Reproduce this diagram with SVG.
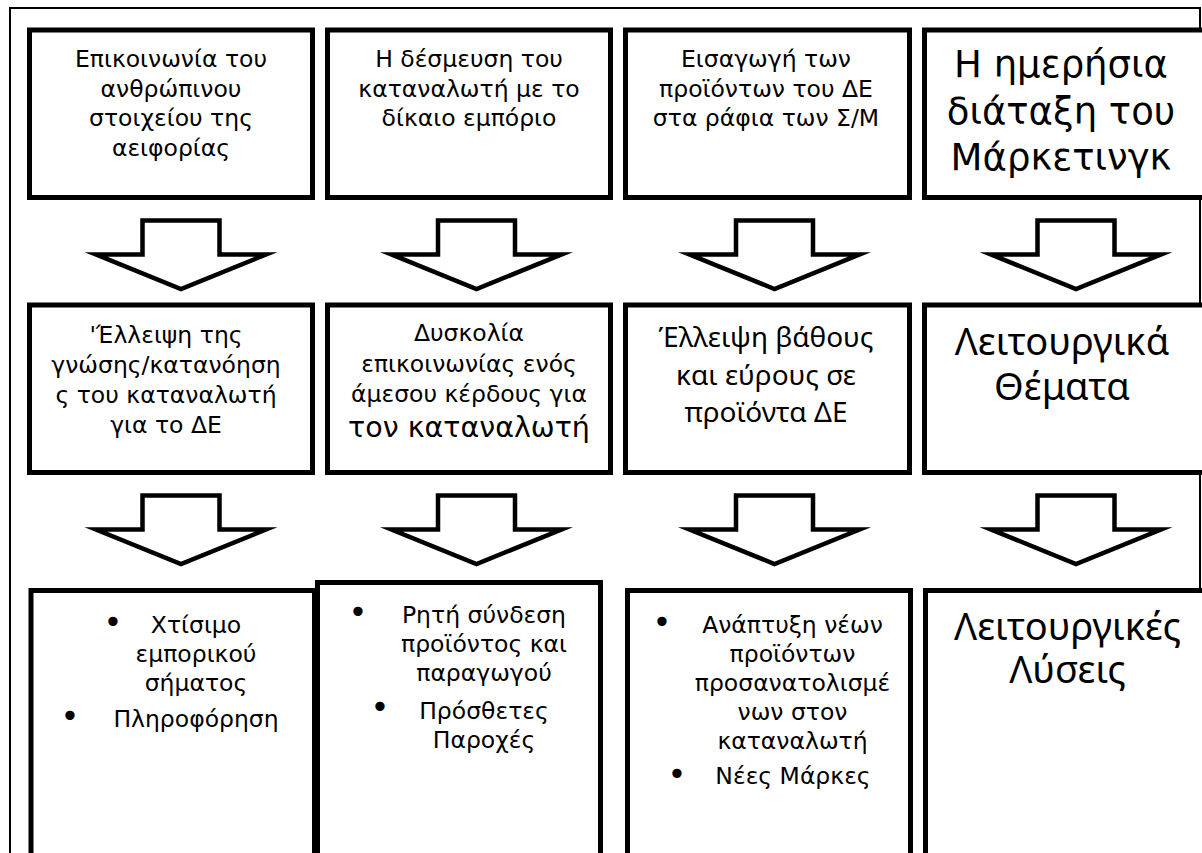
<svg xmlns="http://www.w3.org/2000/svg" width="1202" height="853" viewBox="0 0 1202 853">
<style>
.frame{fill:none;stroke:#000;stroke-width:2}
.box{fill:#fff;stroke:#000;stroke-width:5}
.arr{fill:#fff;stroke:#000;stroke-width:4.5;stroke-linejoin:miter;stroke-miterlimit:10}
.t{font-family:"DejaVu Sans","Liberation Sans",sans-serif;font-size:23.5px;fill:#000;text-anchor:middle}
.big{font-family:"DejaVu Sans","Liberation Sans",sans-serif;font-size:37px;fill:#000;text-anchor:middle}
.c{font-family:"Noto Sans","Open Sans",sans-serif;font-size:28px;fill:#000;text-anchor:middle}
.cb{font-family:"Noto Sans","Open Sans",sans-serif;font-size:38px;fill:#000;text-anchor:middle}
.b{font-family:"DejaVu Sans","Liberation Sans",sans-serif;font-size:32px;fill:#000;text-anchor:middle}
</style>
<defs>
<polygon id="arrow" points="-38.5,0 38.5,0 38.5,34 85,34 0,68.5 -85,34 -38.5,34"/>
</defs>
<rect class="frame" x="10" y="8" width="1190" height="900"/>

<g id="connectors">
<use href="#arrow" class="arr" x="181" y="220.5"/>
<use href="#arrow" class="arr" x="476.5" y="220.5"/>
<use href="#arrow" class="arr" x="774.5" y="220.5"/>
<use href="#arrow" class="arr" x="1076" y="220.5"/>
<use href="#arrow" class="arr" x="181" y="495.5"/>
<use href="#arrow" class="arr" x="476.5" y="495.5"/>
<use href="#arrow" class="arr" x="774.5" y="495.5"/>
<use href="#arrow" class="arr" x="1076" y="495.5"/>
</g>

<g id="n1">
<rect class="box" x="29.5" y="30" width="283" height="167.5"/>
<text class="t" x="171" y="67">Επικοινωνία του</text>
<text class="t" x="171" y="96.5">ανθρώπινου</text>
<text class="t" x="171" y="126">στοιχείου της</text>
<text class="t" x="171" y="155.5">αειφορίας</text>
</g>
<g id="n2">
<rect class="box" x="327.5" y="30" width="283" height="167.5"/>
<text class="t" x="469" y="67">Η δέσμευση του</text>
<text class="t" x="469" y="96.5">καταναλωτή με το</text>
<text class="t" x="469" y="126">δίκαιο εμπόριο</text>
</g>
<g id="n3">
<rect class="box" x="625.5" y="30" width="284" height="167.5"/>
<text class="t" x="766" y="67">Εισαγωγή των</text>
<text class="t" x="766" y="96.5">προϊόντων του ΔΕ</text>
<text class="t" x="766" y="126">στα ράφια των Σ/Μ</text>
</g>
<g id="n4">
<rect class="box" x="924.5" y="30" width="290" height="167.5"/>
<text class="big" x="1061" y="77">Η ημερήσια</text>
<text class="big" x="1061" y="123.5">διάταξη του</text>
<text class="big" x="1061" y="170">Μάρκετινγκ</text>
</g>

<g id="n5">
<rect class="box" x="29.5" y="305" width="283" height="167.5"/>
<text class="t" x="166" y="343">'Έλλειψη της</text>
<text class="t" x="166" y="373">γνώσης/κατανόηση</text>
<text class="t" x="166" y="403">ς του καταναλωτή</text>
<text class="t" x="166" y="433">για το ΔΕ</text>
</g>
<g id="n6">
<rect class="box" x="327.5" y="305" width="283" height="167.5"/>
<text class="t" x="469" y="341">Δυσκολία</text>
<text class="t" x="469" y="372">επικοινωνίας ενός</text>
<text class="t" x="469" y="402">άμεσου κέρδους για</text>
<text class="t" x="469" y="437" style="font-size:28.5px">τον καταναλωτή</text>
</g>
<g id="n7">
<rect class="box" x="625.5" y="305" width="284" height="167.5"/>
<text class="c" x="766" y="347">Έλλειψη βάθους</text>
<text class="c" x="766" y="385">και εύρους σε</text>
<text class="c" x="766" y="422">προϊόντα ΔΕ</text>
</g>
<g id="n8">
<rect class="box" x="924.5" y="305" width="290" height="167.5"/>
<text class="cb" x="1062" y="355">Λειτουργικά<tspan x="1062" dy="45">Θέματα</tspan></text>
</g>

<g id="n9">
<rect class="box" x="31" y="590.5" width="283.5" height="265"/>
<text class="b" x="113" y="633">•</text>
<text class="t" x="196" y="633">Χτίσιμο</text>
<text class="t" x="196" y="662">εμπορικού</text>
<text class="t" x="196" y="691">σήματος</text>
<text class="b" x="70" y="727">•</text>
<text class="t" x="196" y="727">Πληροφόρηση</text>
</g>
<g id="n10">
<rect class="box" x="317.5" y="582.5" width="283" height="273"/>
<text class="b" x="358" y="623">•</text>
<text class="t" x="484" y="623">Ρητή σύνδεση</text>
<text class="t" x="484" y="652">προϊόντος και</text>
<text class="t" x="484" y="681">παραγωγού</text>
<text class="b" x="380" y="718">•</text>
<text class="t" x="484" y="719">Πρόσθετες</text>
<text class="t" x="484" y="748">Παροχές</text>
</g>
<g id="n11">
<rect class="box" x="627.5" y="590.5" width="283" height="265"/>
<text class="b" x="662" y="633">•</text>
<text class="t" x="792.5" y="633">Ανάπτυξη νέων</text>
<text class="t" x="792.5" y="662">προϊόντων</text>
<text class="t" x="792.5" y="691">προσανατολισμέ</text>
<text class="t" x="792.5" y="720">νων στον</text>
<text class="t" x="792.5" y="749">καταναλωτή</text>
<text class="b" x="677" y="785">•</text>
<text class="t" x="793" y="784">Νέες Μάρκες</text>
</g>
<g id="n12">
<rect class="box" x="925.5" y="590.5" width="290" height="265"/>
<text class="cb" x="1067.5" y="640">Λειτουργικές<tspan x="1067.5" dy="43">Λύσεις</tspan></text>
</g>
</svg>
